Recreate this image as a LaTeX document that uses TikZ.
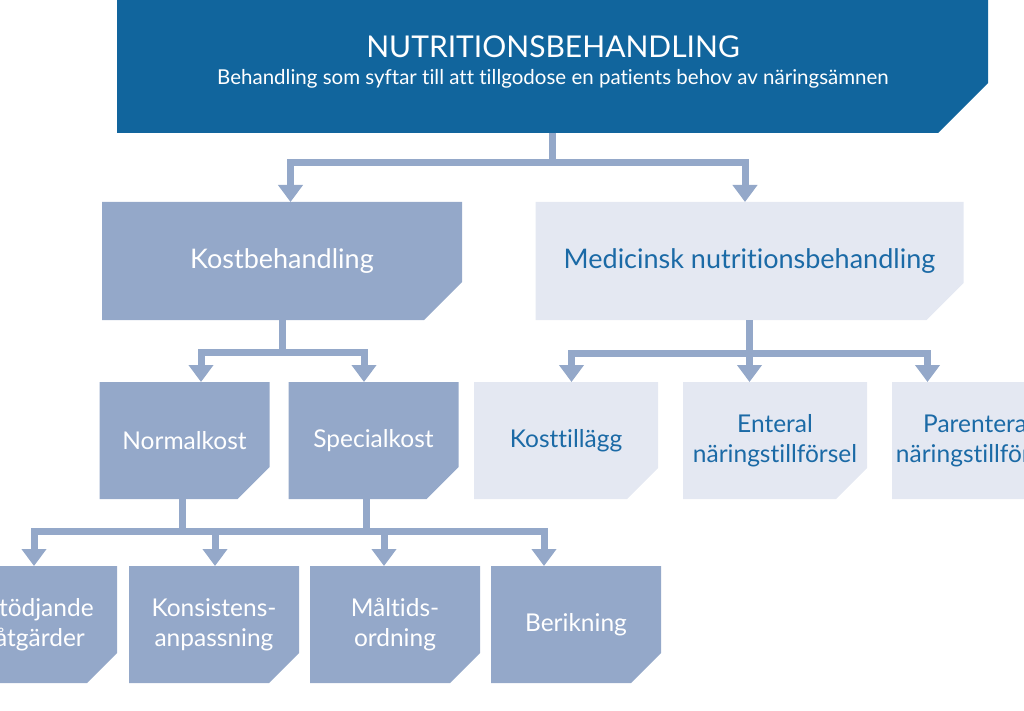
\documentclass[tikz,border=0pt]{standalone}
\usepackage{fontspec}
\setmainfont{Lato}[Ligatures={NoCommon}]
\usetikzlibrary{arrows.meta}

\definecolor{darkblue}{HTML}{11659D}
\definecolor{midblue}{HTML}{94A8C9}
\definecolor{paleblue}{HTML}{E4E8F2}
\definecolor{textblue}{HTML}{1B6AA6}

% box with the lower right corner cut off
\newcommand{\cutfill}[2]{%
  \fill[#1] (path picture bounding box.north west)
    -- (path picture bounding box.north east)
    -- ([yshift=#2]path picture bounding box.south east)
    -- ([xshift=-#2]path picture bounding box.south east)
    -- (path picture bounding box.south west) -- cycle;}

\tikzset{
  box/.style={inner sep=0pt, outer sep=0pt, align=center,
    minimum width=170, minimum height=117,
    font=\fontsize{24.5}{30}\selectfont},
  midbox/.style={box, text=white, path picture={\cutfill{midblue}{30pt}}},
  palebox/.style={box, text=textblue, path picture={\cutfill{paleblue}{31pt}}},
  link/.style={draw=midblue, line width=7pt,
    -{Triangle[width=24pt,length=17pt]}},
  bar/.style={draw=midblue, line width=7pt},
}

\begin{document}
\begin{tikzpicture}[x=1pt, y=-1pt]
  \useasboundingbox (0,0) rectangle (1024,711);
  \clip (0,0) rectangle (1024,711);

  % top level
  \node[box, minimum width=871, minimum height=153,
        path picture={\cutfill{darkblue}{50pt}}] (top) at (552.5,56.5) {};
  \node[text=white, font=\fontsize{30}{34}\selectfont] (title) at (553,47) {NUTRITIONSBEHANDLING};
  \node[text=white, font=\fontsize{20.5}{24}\selectfont] (sub) at (553,79)
    {Behandling som syftar till att tillgodose en patients behov av näringsämnen};

  % second level
  \node[midbox, minimum width=360, minimum height=118,
        font=\fontsize{27}{32}\selectfont,
        path picture={\cutfill{midblue}{38pt}}] (kost) at (282,261) {Kostbehandling};
  \node[palebox, minimum width=428, minimum height=118,
        font=\fontsize{27}{32}\selectfont,
        path picture={\cutfill{paleblue}{37pt}}] (med) at (749.5,261) {Medicinsk nutritionsbehandling};

  % third level
  \node[midbox, path picture={\cutfill{midblue}{32pt}}] (normal) at (184.5,440.5) {Normalkost};
  \node[midbox, path picture={\cutfill{midblue}{32pt}}] (special) at (373.5,440.5) {Specialkost};
  \node[palebox, minimum width=184] (tillagg) at (566,440.5) {Kosttillägg};
  \node[palebox, minimum width=184] (enteral) at (775,440.5) {Enteral\\näringstillförsel};
  \node[palebox, minimum width=172] (parent) at (978,440.5) {Parenteral\\näringstillförsel};

  % fourth level
  \node[midbox, minimum width=154] (stod) at (40,624.5) {Stödjande\\åtgärder};
  \node[midbox] (kons) at (214,624.5) {Konsistens-\\anpassning};
  \node[midbox] (maltid) at (395,624.5) {Måltids-\\ordning};
  \node[midbox] (berik) at (576,624.5) {Berikning};

  % connectors
  \draw[link] (top.south) -- ++(0,30) -| ([xshift=8.5]kost.north);
  \draw[link] (top.south) -- ++(0,30) -| ([xshift=-4.5]med.north);

  \draw[link] (kost.south) -- ++(0,32) -| ([xshift=16.5]normal.north);
  \draw[link] (kost.south) -- ++(0,32) -| ([xshift=-9.5]special.north);

  \draw[link] (med.south) -- ++(0,33) -| ([xshift=5.5]tillagg.north);
  \draw[link] (med.south) -- (med.south |- enteral.north);
  \draw[link] (med.south) -- ++(0,33) -| ([xshift=-50.5]parent.north);

  \coordinate (jn) at ([xshift=-2.5,yshift=-32]normal.south);
  \coordinate (js) at ([xshift=-7.5,yshift=-32]special.south);
  \draw[bar] ([xshift=-2.5]normal.south) -- (jn);
  \draw[bar] ([xshift=-7.5]special.south) -- (js);
  \draw[bar] (jn) -- (js);
  \draw[link] (jn) -| ([xshift=-6]stod.north);
  \draw[link] (jn) -| ([xshift=1]kons.north);
  \draw[link] (js) -| ([xshift=-11]maltid.north);
  \draw[link] (js) -| ([xshift=-32]berik.north);
\end{tikzpicture}
\end{document}
